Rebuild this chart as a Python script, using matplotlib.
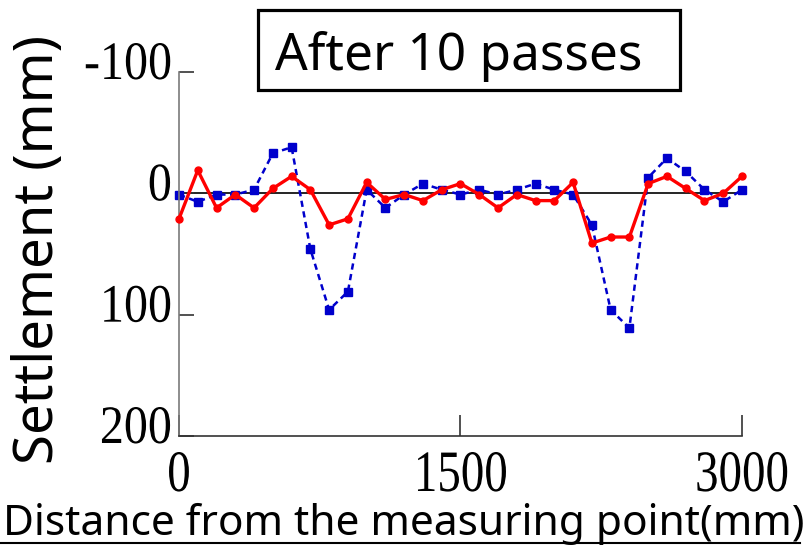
import matplotlib
matplotlib.use("Agg")
import numpy as np
import matplotlib.pyplot as plt
from matplotlib.patheffects import AbstractPathEffect
from matplotlib.transforms import Affine2D, ScaledTranslation
from matplotlib.patches import Rectangle
from matplotlib.lines import Line2D
from matplotlib.textpath import TextPath
from matplotlib.font_manager import FontProperties

# ---------------- data ----------------
distance = list(range(0, 3001, 100))  # mm
settlement_red = [21, -19, 12, 1, 12, -4, -14, -3, 26, 21, -9, 5, 1, 6, -3, -8,
                  1, 12, 1, 6, 6, -9, 41, 36, 36, -8, -14, -4, 6, 0, -14]
settlement_blue = [1, 7, 1, 1, -3, -33, -38, 46, 96, 81, -3, 12, 1, -8, -3, 1,
                   -3, 1, -3, -8, -3, 1, 26, 96, 111, -13, -29, -18, -3, 7, -3]
x_ticks = [0, 1500, 3000]
x_tick_labels = ["0", "1500", "3000"]
y_ticks = [-100, 0, 100, 200]
y_tick_labels = ["-100", "0", "100", "200"]
title_text = "After 10 passes"
x_label = "Distance from the measuring point(mm)"
y_label = "Settlement (mm)"


class Squash(AbstractPathEffect):
    """Horizontally condense rendered text (text stays a real Text artist)."""
    def __init__(self, sx, anchor=0.5):
        super().__init__()
        self.sx = sx
        self.anchor = anchor

    def draw_path(self, renderer, gc, tpath, affine, rgbFace=None):
        ext = tpath.get_extents()
        x0 = ext.x0 + self.anchor * ext.width
        t = Affine2D().translate(-x0, 0).scale(self.sx, 1).translate(x0, 0) + affine
        renderer.draw_path(gc, tpath, t, rgbFace)


def ink(text, family):
    e = TextPath((0, 0), text, size=100, prop=FontProperties(family=family)).get_extents()
    return e.width / 100, e.y1 / 100   # per pixel of font size


W, H = 804, 545
DPI = 100
px2pt = 72 / DPI
fig = plt.figure(figsize=(W / DPI, H / DPI), dpi=DPI)
L, R, T, B = 179, 742, 72, 436
ax = fig.add_axes([L / W, (H - B) / H, (R - L) / W, (B - T) / H])

ax.axhline(0, color="black", lw=1.2, zorder=1)
ax.plot(distance, settlement_blue, color="#0000CC", lw=1.8, ls=(0, (2.5, 1.8)),
        marker="s", ms=6, mec="#0000CC", mfc="#0000CC", zorder=2, clip_on=False)
ax.plot(distance, settlement_red, color="#FF0000", lw=2.4, ls="-",
        marker="o", ms=5, mec="#FF0000", mfc="#FF0000", zorder=3, clip_on=False)

ax.set_xlim(0, 3000)
ax.set_ylim(200, -100)

for s in ("top", "right"):
    ax.spines[s].set_visible(False)
ax.spines["left"].set_color("#7a7a7a")
ax.spines["left"].set_linewidth(1.2)
ax.spines["bottom"].set_color("#333333")
ax.spines["bottom"].set_linewidth(1.2)

SERIF = "Liberation Serif"
# y tick labels: digits ~36 px tall, "100" ~66 px wide
w1, h1 = ink("100", SERIF)
ysize_px = 36 / h1
ysq = 66 / (w1 * ysize_px)
# x tick labels: digits ~40 px tall, "1500" ~88 px wide
w2, h2 = ink("1500", SERIF)
xsize_px = 39 / h2
xsq = 88 / (w2 * xsize_px)

ax.set_xticks(x_ticks)
ax.set_xticklabels(x_tick_labels, fontfamily=SERIF, fontsize=xsize_px * px2pt, va="baseline")
ax.set_yticks(y_ticks)
ax.set_yticklabels(y_tick_labels, fontfamily=SERIF, fontsize=ysize_px * px2pt, va="baseline")
ax.tick_params(axis="x", direction="in", length=15, width=1.2, color="#333333",
               pad=(491 - B) * px2pt)
ax.tick_params(axis="y", direction="in", length=11, width=1.2, color="#333333", pad=5)

for lab in ax.get_xticklabels():
    lab.set_va("baseline")
    lab.set_path_effects([Squash(xsq, 0.5)])
shift = ScaledTranslation(0, -7 / DPI, fig.dpi_scale_trans)
for lab in ax.get_yticklabels():
    lab.set_va("baseline")
    lab.set_path_effects([Squash(ysq, 1.0)])
    lab.set_transform(lab.get_transform() + shift)

SANS = "Noto Sans"
wx, _ = ink(x_label, SANS)
ax.set_xlabel(x_label, fontfamily=SANS, fontsize=(797 / wx) * px2pt, ha="left", va="baseline")
ax.xaxis.set_label_coords((3 - L) / (R - L), -(535 - B) / (B - T))

wy, _ = ink(y_label, SANS)
ax.set_ylabel(y_label, fontfamily=SANS, fontsize=(424 / wy) * px2pt, ha="center", va="baseline")
ax.yaxis.set_label_coords((53 - L) / (R - L), (B - 250) / (B - T))

# title box
fig.patches.append(Rectangle((258 / W, (H - 90) / H), 422 / W, 80 / H,
                             transform=fig.transFigure, fill=False,
                             edgecolor="black", lw=2.3))
wt, _ = ink(title_text, SANS)
fig.text(275 / W, (H - 70) / H, title_text, fontfamily=SANS, fontsize=(365 / wt) * px2pt,
         ha="left", va="baseline")

# underline at the bottom
fig.add_artist(Line2D([0, 800 / W], [(H - 543) / H] * 2, transform=fig.transFigure,
                      color="black", lw=1.5))

fig.savefig("out.png", dpi=DPI)
